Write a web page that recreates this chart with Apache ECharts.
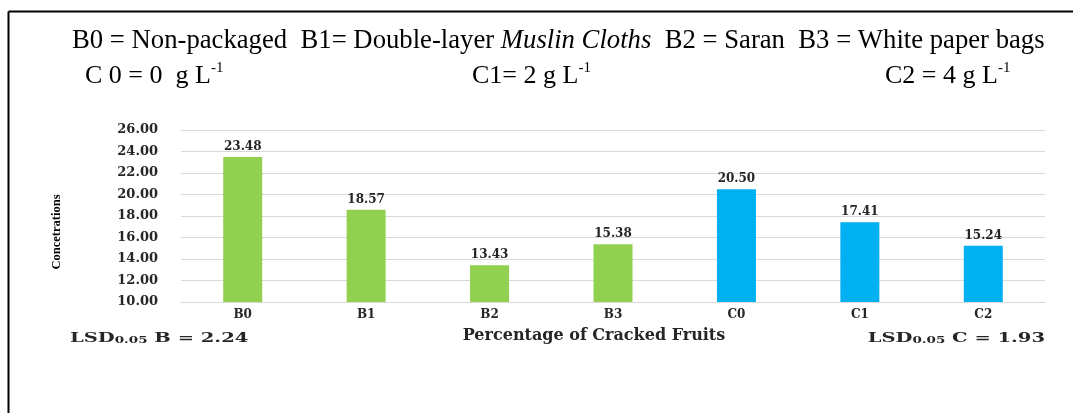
<!DOCTYPE html>
<html>
<head>
<meta charset="utf-8">
<script src="https://cdn.jsdelivr.net/npm/echarts@6/dist/echarts.min.js"></script>
<style>
html,body{margin:0;padding:0;background:#fff;}
#chart{width:1073px;height:413px;}
</style>
</head>
<body>
<div id="chart"></div>
<script>
const categories = ['B0','B1','B2','B3','C0','C1','C2'];
const values = [23.48, 18.57, 13.43, 15.38, 20.50, 17.41, 15.24];
const yTicks = [10, 12, 14, 16, 18, 20, 22, 24, 26];
const lsdB = 2.24;
const lsdC = 1.93;

const GREEN = '#92D050';
const BLUE = '#00B0F0';
const serifWide = '"DejaVu Serif", serif';
const serif = '"Liberation Serif", "Times New Roman", serif';

const chart = echarts.init(document.getElementById('chart'), null, {renderer: 'canvas'});

const supRich = {
  n: {fontFamily: serif, fontSize: 26.7, fontWeight: 'normal', color: '#000', lineHeight: 30, verticalAlign: 'bottom'},
  i: {fontFamily: serif, fontSize: 26.7, fontWeight: 'normal', color: '#000', fontStyle: 'italic', lineHeight: 30, verticalAlign: 'bottom'},
  s: {fontFamily: serif, fontSize: 15, fontWeight: 'normal', color: '#000', lineHeight: 15, verticalAlign: 'top', padding: [2, 0, 0, 0]}
};
const supRich2 = {
  n: {fontFamily: serif, fontSize: 26, fontWeight: 'normal', color: '#000', lineHeight: 30, verticalAlign: 'bottom'},
  s: {fontFamily: serif, fontSize: 15, fontWeight: 'normal', color: '#000', lineHeight: 15, verticalAlign: 'top', padding: [2, 0, 0, 0]}
};

const lsdRich = {
  b: {fontFamily: serifWide, fontWeight: 'bold', fontSize: 13, fill: '#262626', lineHeight: 16, verticalAlign: 'bottom'},
  sub: {fontFamily: serifWide, fontWeight: 'bold', fontSize: 9, fill: '#262626', lineHeight: 12, verticalAlign: 'bottom'}
};

const option = {
  backgroundColor: '#fff',
  animation: false,
  title: [
    {text: '{n|B0 = Non-packaged  B1= Double-layer }{i|Muslin Cloths}{n|  B2 = Saran  B3 = White paper bags}',
     left: 72, top: 24, padding: 0, textStyle: {fontWeight: 'normal', rich: supRich}},
    {text: '{n|C 0 = 0  g L}{s|-1}', left: 85, top: 59, padding: 0, textStyle: {fontWeight: 'normal', rich: supRich2}},
    {text: '{n|C1= 2 g L}{s|-1}', left: 472, top: 59, padding: 0, textStyle: {fontWeight: 'normal', rich: supRich2}},
    {text: '{n|C2 = 4 g L}{s|-1}', left: 885, top: 59, padding: 0, textStyle: {fontWeight: 'normal', rich: supRich2}}
  ],
  grid: {left: 181, right: 28, top: 130, bottom: 111, containLabel: false},
  xAxis: {
    type: 'category',
    data: categories,
    name: 'Percentage of Cracked Fruits',
    nameLocation: 'middle',
    nameGap: 26,
    nameTextStyle: {fontFamily: serifWide, fontWeight: 'bold', fontSize: 16, color: '#262626', padding: [0, 38, 0, 0]},
    axisLine: {show: true, lineStyle: {color: '#d9d9d9', width: 1}},
    axisTick: {show: false},
    axisLabel: {fontFamily: serifWide, fontWeight: 'bold', fontSize: 12, color: '#262626', margin: 7}
  },
  yAxis: {
    type: 'value',
    min: yTicks[0],
    max: yTicks[yTicks.length - 1],
    interval: yTicks[1] - yTicks[0],
    name: 'Concetrations',
    nameLocation: 'middle',
    nameRotate: 90,
    nameGap: 118,
    nameTextStyle: {fontFamily: serif, fontWeight: 'bold', fontSize: 12.5, color: '#000', padding: [0, 32, 0, 0]},
    axisLine: {show: false},
    axisTick: {show: false},
    axisLabel: {
      fontFamily: serifWide, fontWeight: 'bold', fontSize: 13, color: '#262626', margin: 23,
      formatter: v => v.toFixed(2)
    },
    splitLine: {show: true, lineStyle: {color: '#d9d9d9', width: 1}}
  },
  series: [{
    type: 'bar',
    barWidth: 39,
    data: values.map((v, i) => ({
      value: v,
      itemStyle: {color: categories[i].charAt(0) === 'B' ? GREEN : BLUE}
    })),
    label: {
      show: true,
      position: 'top',
      distance: 4,
      fontFamily: serifWide, fontWeight: 'bold', fontSize: 12, color: '#262626',
      formatter: p => p.value.toFixed(2)
    }
  }],
  graphic: [
    {type: 'line', shape: {x1: 8.5, y1: 11.5, x2: 1073, y2: 11.5}, style: {stroke: '#000', lineWidth: 2}},
    {type: 'line', shape: {x1: 8.5, y1: 11.5, x2: 8.5, y2: 413}, style: {stroke: '#000', lineWidth: 2}},
    {type: 'text', x: 70, y: 329, scaleX: 1.5,
     style: {text: '{b|LSD}{sub|0.05}{b| B = ' + lsdB.toFixed(2) + '}', rich: lsdRich}},
    {type: 'text', x: 1045, y: 329, scaleX: 1.5,
     style: {text: '{b|LSD}{sub|0.05}{b| C = ' + lsdC.toFixed(2) + '}', align: 'right', rich: lsdRich}}
  ]
};
chart.setOption(option);
</script>
</body>
</html>
